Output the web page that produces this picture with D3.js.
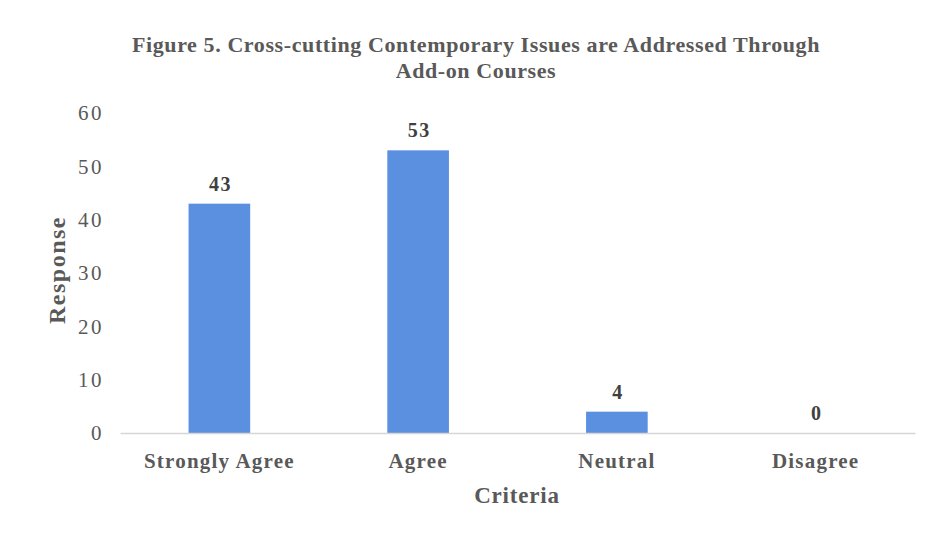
<!DOCTYPE html>
<html>
<head>
<meta charset="utf-8">
<script src="https://cdn.jsdelivr.net/npm/d3@7"></script>
<style>
  body { margin: 0; background: #fff; }
  text { font-family: "Liberation Serif", "DejaVu Serif", serif; }
</style>
</head>
<body>
<script>
const w = 929;
const h = 537;

const categories = ["Strongly Agree", "Agree", "Neutral", "Disagree"];
const responses = [43, 53, 4, 0];
const yTicks = [0, 10, 20, 30, 40, 50, 60];
const titleLines = ["Figure 5. Cross-cutting Contemporary Issues are Addressed Through", "Add-on Courses"];

const margin = { top: 113, right: 14, bottom: 104, left: 120 };
const textColor = "#595959";

const svg = d3.select("body").append("svg").attr("width", w).attr("height", h);

const x = d3.scaleBand()
  .domain(categories)
  .range([margin.left, w - margin.right])
  .paddingInner(0.69)
  .paddingOuter(0.345);

const y = d3.scaleLinear()
  .domain([0, 60])
  .range([h - margin.bottom, margin.top]);

// title
svg.append("g")
  .selectAll("text")
  .data(titleLines)
  .enter()
  .append("text")
  .attr("x", 476)
  .attr("y", function (d, i) { return 52 + i * 26; })
  .attr("text-anchor", "middle")
  .style("font-size", "22px")
  .style("letter-spacing", "0.6px")
  .style("font-weight", "bold")
  .style("fill", textColor)
  .text(function (d) { return d; });

// y axis (no line, labels only)
const yAxis = svg.append("g")
  .attr("transform", `translate(${margin.left},0)`)
  .call(d3.axisLeft(y).tickValues(yTicks).tickSize(0).tickPadding(16));
yAxis.select(".domain").remove();
yAxis.selectAll("text")
  .style("font-size", "21px")
  .style("letter-spacing", "2.5px")
  .style("font-family", "'Liberation Serif', serif")
  .style("fill", textColor);

// bars
svg.selectAll("rect.bar")
  .data(responses)
  .enter()
  .append("rect")
  .attr("class", "bar")
  .attr("x", function (d, i) { return x(categories[i]); })
  .attr("y", function (d) { return y(d); })
  .attr("width", x.bandwidth())
  .attr("height", function (d) { return y(0) - y(d); })
  .style("fill", "#5b8fe0");

// x axis
const xAxis = svg.append("g")
  .attr("transform", `translate(0,${y(0)})`)
  .call(d3.axisBottom(x).tickSize(0).tickPadding(20));
xAxis.select(".domain").attr("stroke", "#d6d6d6").attr("stroke-width", 1.5);
xAxis.selectAll("text")
  .style("font-size", "21px")
  .style("letter-spacing", "1.2px")
  .style("font-weight", "bold")
  .style("font-family", "'Liberation Serif', serif")
  .style("fill", textColor);

// value labels
svg.selectAll("text.val")
  .data(responses)
  .enter()
  .append("text")
  .attr("class", "val")
  .attr("x", function (d, i) { return x(categories[i]) + x.bandwidth() / 2 + 1; })
  .attr("y", function (d) { return y(d) - 13; })
  .attr("text-anchor", "middle")
  .style("font-size", "20px")
  .style("letter-spacing", "1.5px")
  .style("font-weight", "bold")
  .style("fill", "#404040")
  .text(function (d) { return d; });

// axis titles
svg.append("text")
  .attr("x", 517)
  .attr("y", 503)
  .attr("text-anchor", "middle")
  .style("font-size", "23px")
  .style("letter-spacing", "0.8px")
  .style("font-weight", "bold")
  .style("fill", textColor)
  .text("Criteria");

svg.append("text")
  .attr("transform", "translate(65,270) rotate(-90)")
  .attr("text-anchor", "middle")
  .style("font-size", "24px")
  .style("letter-spacing", "1.5px")
  .style("font-weight", "bold")
  .style("fill", textColor)
  .text("Response");
</script>
</body>
</html>
